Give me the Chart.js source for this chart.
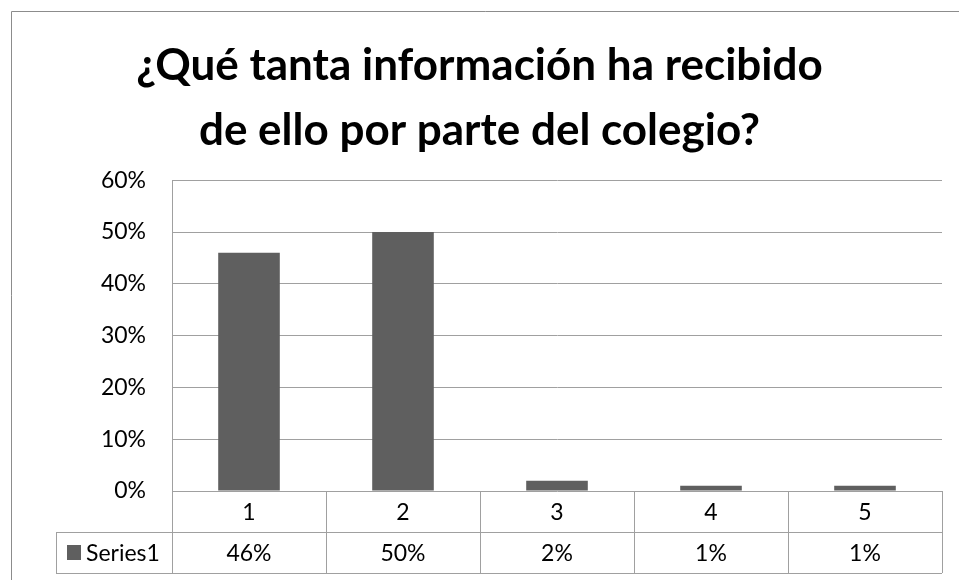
<!DOCTYPE html>
<html>
<head>
<meta charset="utf-8">
<script src="https://cdn.jsdelivr.net/npm/chart.js@4"></script>
<style>
  html, body { margin: 0; padding: 0; background: #fff; }
  #wrap { width: 959px; height: 580px; }
</style>
</head>
<body>
<div id="wrap"><canvas id="chart" width="959" height="580"></canvas></div>
<script>
// datos del gráfico
const categories = ['1', '2', '3', '4', '5'];
const seriesName = 'Series1';
const values = [46, 50, 2, 1, 1]; // porcentaje
const yTicks = [0, 10, 20, 30, 40, 50, 60];
const titleLines = ['¿Qué tanta información ha recibido', 'de ello por parte del colegio?'];

const barColor = '#5F5F5F';
const lineColor = '#A0A0A0';
const fontFamily = 'Lato, "Open Sans", sans-serif';

// tabla de datos debajo del eje (como en Excel)
const dataTable = {
    id: 'dataTable',
    afterDraw(chart) {
        const ctx = chart.ctx;
        const x = chart.scales.x;
        const area = chart.chartArea;
        const colW = (area.right - area.left) / categories.length;
        const row1Top = area.bottom;
        const row2Top = row1Top + 41;
        const row2Bottom = row2Top + 41;
        const legendLeft = 56;

        ctx.save();
        ctx.strokeStyle = lineColor;
        ctx.lineWidth = 1;
        ctx.beginPath();
        // horizontales
        ctx.moveTo(legendLeft, row2Top + 0.5);
        ctx.lineTo(area.right, row2Top + 0.5);
        ctx.moveTo(legendLeft, row2Bottom + 0.5);
        ctx.lineTo(area.right, row2Bottom + 0.5);
        // verticales
        for (let i = 0; i <= categories.length; i++) {
            const vx = Math.round(area.left + i * colW) + 0.5;
            ctx.moveTo(vx, row1Top);
            ctx.lineTo(vx, row2Bottom);
        }
        ctx.moveTo(legendLeft + 0.5, row2Top);
        ctx.lineTo(legendLeft + 0.5, row2Bottom);
        ctx.stroke();

        // borde exterior
        ctx.strokeStyle = '#8C8C8C';
        ctx.beginPath();
        ctx.moveTo(11.5, chart.height);
        ctx.lineTo(11.5, 11.5);
        ctx.lineTo(chart.width, 11.5);
        ctx.stroke();

        ctx.fillStyle = '#000';
        ctx.font = '23px ' + fontFamily;
        ctx.textAlign = 'center';
        ctx.textBaseline = 'middle';
        categories.forEach((c, i) => {
            const cx = x.getPixelForValue(i);
            ctx.fillText(c, cx, (row1Top + row2Top) / 2 + 1);
            ctx.fillText(values[i] + '%', cx, (row2Top + row2Bottom) / 2 + 1);
        });

        // leyenda en la tabla
        ctx.fillStyle = barColor;
        ctx.fillRect(67, row2Top + 13, 14, 15);
        ctx.fillStyle = '#000';
        ctx.textAlign = 'left';
        ctx.fillText(seriesName, 86, (row2Top + row2Bottom) / 2 + 1);
        ctx.restore();
    }
};

const data = {
    labels: categories,
    datasets: [{
        label: seriesName,
        data: values,
        backgroundColor: barColor,
        borderWidth: 0,
        categoryPercentage: 1,
        barPercentage: 0.4
    }]
};

const config = {
    type: 'bar',
    data: data,
    options: {
        responsive: false,
        animation: false,
        layout: {
            padding: { left: 0, right: 0, top: 0, bottom: 89 }
        },
        plugins: {
            legend: { display: false },
            tooltip: { enabled: false },
            title: {
                display: true,
                text: titleLines,
                color: '#000',
                font: { family: fontFamily, size: 44, weight: 'bold', lineHeight: 1.48 },
                padding: { top: 33, bottom: 17 }
            }
        },
        scales: {
            x: {
                display: false
            },
            y: {
                min: 0,
                max: 60,
                afterBuildTicks(scale) {
                    scale.ticks = yTicks.map(v => ({ value: v }));
                },
                afterFit(scale) {
                    scale.width = 172;
                },
                grid: { color: lineColor, drawTicks: false },
                border: { color: lineColor },
                ticks: {
                    color: '#000',
                    padding: 26,
                    font: { family: fontFamily, size: 23 },
                    callback: v => v + '%'
                }
            },
            // eje vacío a la derecha, solo para dejar margen
            yRight: {
                position: 'right',
                min: 0,
                max: 60,
                grid: { display: false },
                border: { display: false },
                ticks: { display: false },
                afterFit(scale) {
                    scale.width = 17;
                }
            }
        }
    },
    plugins: [dataTable]
};

const ctxChart = document.getElementById('chart').getContext('2d');
const myChart = new Chart(ctxChart, config);
</script>
</body>
</html>
